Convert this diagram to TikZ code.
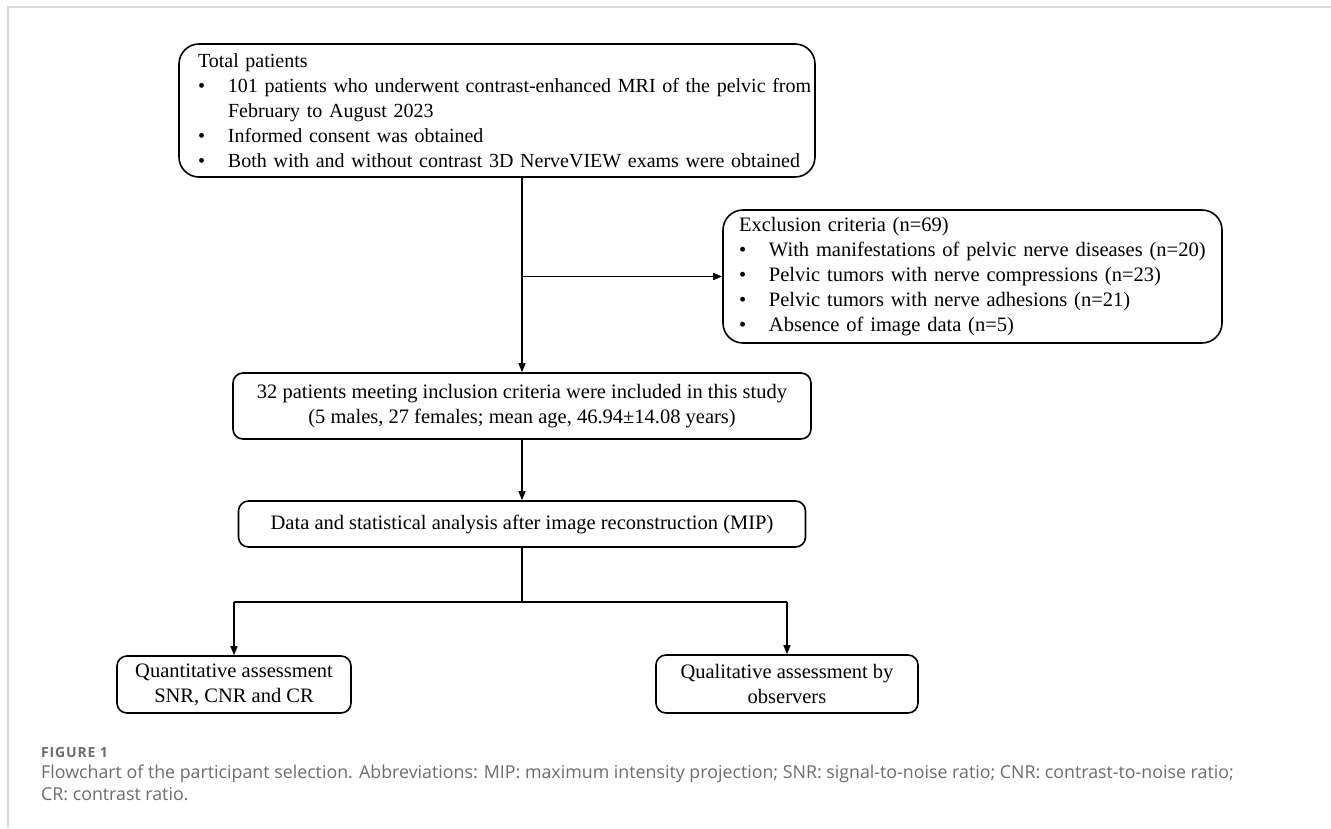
\documentclass[tikz,border=0pt]{standalone}
\usepackage{fontspec}
\setmainfont{Liberation Serif}
\newfontfamily\capfont{Open Sans}
\newfontfamily\capbold{Open Sans}[LetterSpace=6]
\usetikzlibrary{arrows.meta}

\definecolor{framegray}{RGB}{218,218,218}
\definecolor{capgray}{RGB}{108,108,108}

\newcommand{\bul}[1]{\mbox{\makebox[30pt][l]{\textbullet}#1}}

\begin{document}
\begin{tikzpicture}[x=1pt, y=-1pt,
    box/.style={draw, line width=1.6pt, rounded corners=10pt, align=center,
      inner sep=0pt, font=\fontsize{20.5}{25}\selectfont},
    listbox/.style={box, rounded corners=20pt, align=left},
    flow/.style={line width=1.3pt, -{Triangle[length=9pt,width=7pt]}},
    capline/.style={anchor=base west, inner sep=0pt, text=capgray,
      font=\capfont\fontsize{17.8}{22}\selectfont}]

\useasboundingbox (0,0) rectangle (1331,828);

% card frame
\draw[framegray, line width=2pt] (8,828) -- (8,7) -- (1331,7);

\draw (497,110.5) node[listbox, text width=598pt, minimum width=636pt, minimum height=133pt,
    font=\fontsize{20}{25}\selectfont] (total) {Total patients\\
  \bul{101 patients who underwent contrast-enhanced MRI of the pelvic from}\\
  \hspace*{30pt}February to August 2023\\
  \bul{Informed consent was obtained}\\
  \bul{Both with and without contrast 3D NerveVIEW exams were obtained}} ;

\draw (972.5,276.5) node[listbox, text width=467pt, minimum width=499pt, minimum height=133pt] (excl) {Exclusion criteria (n=69)\\
  \bul{With manifestations of pelvic nerve diseases (n=20)}\\
  \bul{Pelvic tumors with nerve compressions (n=23)}\\
  \bul{Pelvic tumors with nerve adhesions (n=21)}\\
  \bul{Absence of image data (n=5)}} ;

\draw (522,406) node[box, minimum width=578pt, minimum height=66pt] (incl) {32 patients meeting inclusion criteria were included in this study\\
  (5 males, 27 females; mean age, 46.94±14.08 years)} ;

\draw (522,524) node[box, minimum width=567pt, minimum height=46pt] (data) {Data and statistical analysis after image reconstruction (MIP)} ;

\draw (234,684.5) node[box, minimum width=234pt, minimum height=57pt] (quant) {Quantitative assessment\\ SNR, CNR and CR} ;
\draw (787,684) node[box, minimum width=262pt, minimum height=58pt] (qual) {Qualitative assessment by\\ observers} ;

\coordinate (fork) at (incl.north |- excl.west) ;
\coordinate (split) at (522,602) ;

\draw[flow] (total.south -| incl.north) to (incl.north) ;
\draw[flow] (fork) to (excl.west) ;
\draw[flow] (incl.south) to (data.north) ;
\draw[line width=1.3pt] (data.south) to (split)
     (quant.north |- split) to (qual.north |- split) ;
\draw[flow] (quant.north |- split) to (quant.north) ;
\draw[flow] (qual.north |- split) to (qual.north) ;

\draw (41,757) node[capline, font=\capbold\bfseries\fontsize{14}{16}\selectfont] (figno) {FIGURE 1} ;
\draw (41,778) node[capline] (cap1) {Flowchart of the participant selection. Abbreviations: MIP: maximum intensity projection; SNR: signal-to-noise ratio; CNR: contrast-to-noise ratio;} ;
\draw (41,800) node[capline] (cap2) {CR: contrast ratio.} ;
\end{tikzpicture}
\end{document}
